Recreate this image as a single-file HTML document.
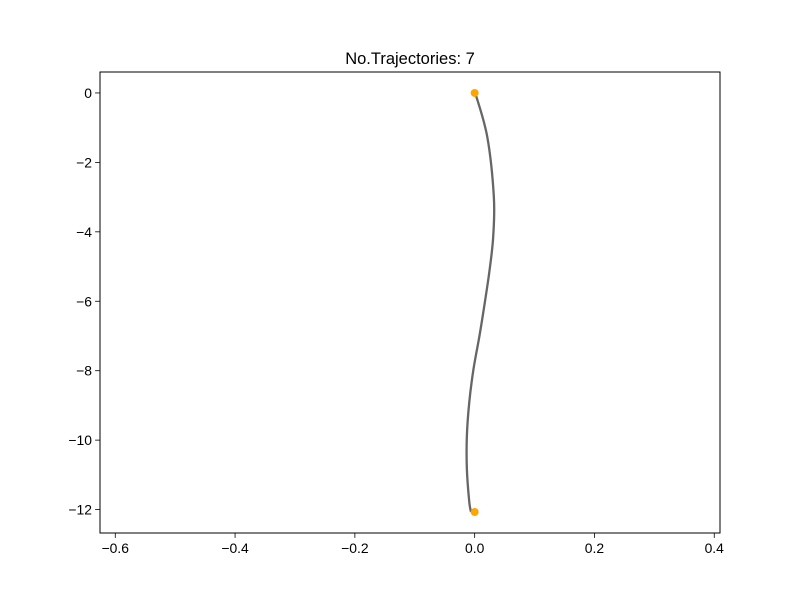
<!DOCTYPE html>
<html><head><meta charset="utf-8"><style>
body{margin:0;background:#fff}
svg{display:block;font-family:"Liberation Sans","DejaVu Sans",sans-serif}
</style></head><body>
<svg id="chart" width="800" height="600">
<rect width="800" height="600" fill="#fff"/>
<text x="410" y="64" font-size="16.5" text-anchor="middle">No.Trajectories: 7</text>
<g id="plot"></g>
<rect x="100" y="72" width="620" height="461" fill="none" stroke="#000" stroke-width="1"/>
</svg>
<script>
const trajX = [0.001, 0.021, 0.032, 0.031, 0.025, 0.017, 0.008, -0.002, -0.009, -0.013, -0.013, -0.009, -0.006];
const trajY = [0, -1.26, -2.98, -4.13, -5.09, -6.03, -7.0, -7.96, -8.91, -9.88, -10.83, -11.78, -12.07];
const pointX = [0, 0];
const pointY = [0, -12.07];
const xTicks = [-0.6, -0.4, -0.2, 0.0, 0.2, 0.4];
const xTickLabels = ["\u22120.6", "\u22120.4", "\u22120.2", "0.0", "0.2", "0.4"];
const yTicks = [0, -2, -4, -6, -8, -10, -12];
const yTickLabels = ["0", "\u22122", "\u22124", "\u22126", "\u22128", "\u221210", "\u221212"];

const L=100,R=720,T=72,B=533;
const xMin=-0.6255,xMax=0.4096,yMin=-12.675,yMax=0.6035;
const sx=v=>L+(v-xMin)/(xMax-xMin)*(R-L);
const sy=v=>B-(v-yMin)/(yMax-yMin)*(B-T);
const NS="http://www.w3.org/2000/svg";
const g=document.getElementById('plot');
function mk(t,a){const e=document.createElementNS(NS,t);for(const k in a)e.setAttribute(k,a[k]);g.appendChild(e);return e;}

xTicks.forEach((v,i)=>{
  const x=sx(v);
  const tk=mk('line',{x1:x,x2:x,y1:B,y2:B+4.9,stroke:'#000','stroke-width':0.8});
  
  
  const t=mk('text',{x:x,y:B+20,'font-size':13.9,'text-anchor':'middle'});
  t.textContent=xTickLabels[i];
  
  
});
yTicks.forEach((v,i)=>{
  const y=sy(v);
  const tk=mk('line',{x1:L-4.9,x2:L,y1:y,y2:y,stroke:'#000','stroke-width':0.8});
  
  
  const t=mk('text',{x:L-8,y:y+5,'font-size':13.9,'text-anchor':'end'});
  t.textContent=yTickLabels[i];
  
  
});

// smooth path via Catmull-Rom
const P=trajX.map((v,i)=>[sx(v),sy(trajY[i])]);
let d='M'+P[0][0]+','+P[0][1];
for(let i=0;i<P.length-1;i++){
  const p0=P[Math.max(i-1,0)],p1=P[i],p2=P[i+1],p3=P[Math.min(i+2,P.length-1)];
  d+=' C'+(p1[0]+(p2[0]-p0[0])/6)+','+(p1[1]+(p2[1]-p0[1])/6)+' '+(p2[0]-(p3[0]-p1[0])/6)+','+(p2[1]-(p3[1]-p1[1])/6)+' '+p2[0]+','+p2[1];
}
const line=mk('path',{d:d,fill:'none',stroke:'#666','stroke-width':2.3});



pointX.forEach((v,i)=>{
  const c=mk('circle',{cx:sx(v),cy:sy(pointY[i]),r:4,fill:'#ffa500'});
  
  
});
</script>
</body></html>
